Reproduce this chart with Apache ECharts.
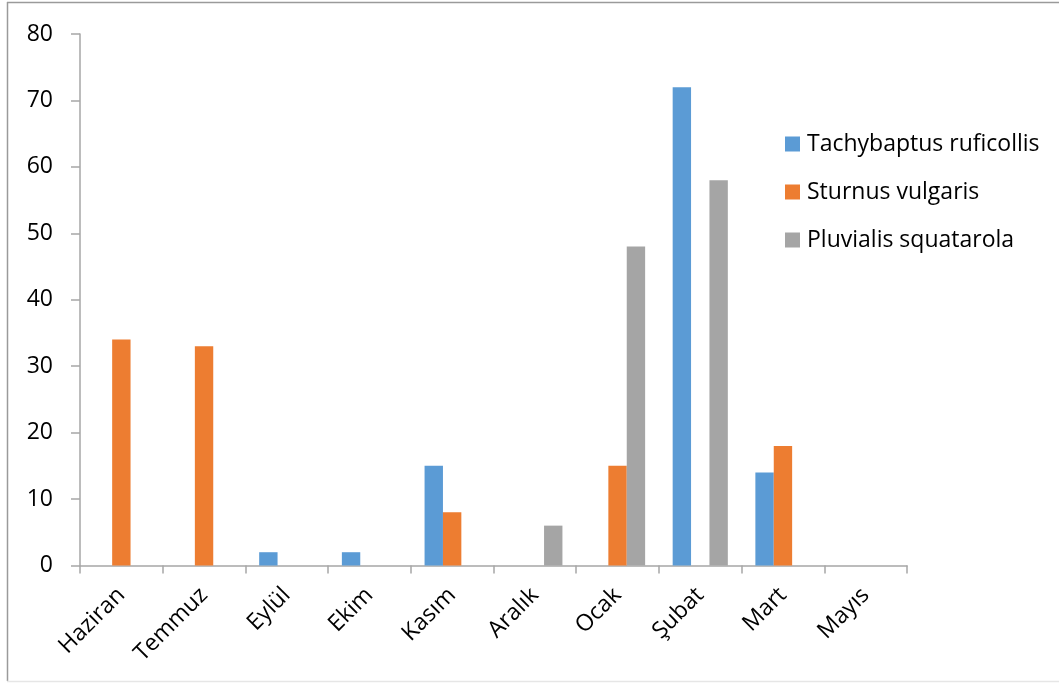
<!DOCTYPE html>
<html>
<head>
<meta charset="utf-8">
<script src="https://cdn.jsdelivr.net/npm/echarts@6/dist/echarts.min.js"></script>
<style>
  html, body { margin: 0; padding: 0; background: #fff; }
  #chart { width: 1059px; height: 683px; }
</style>
</head>
<body>
<div id="chart"></div>
<script>
// Monthly counts of three bird species
const months = ['Haziran', 'Temmuz', 'Eylül', 'Ekim', 'Kasım', 'Aralık', 'Ocak', 'Şubat', 'Mart', 'Mayıs'];
const seriesNames = ['Tachybaptus ruficollis', 'Sturnus vulgaris', 'Pluvialis squatarola'];
const tachybaptus = [0, 0, 2, 2, 15, 0, 0, 72, 14, 0];
const sturnus = [34, 33, 0, 0, 8, 0, 15, 0, 18, 0];
const pluvialis = [0, 0, 0, 0, 0, 6, 48, 58, 0, 0];
const colors = ['#5B9BD5', '#ED7D31', '#A5A5A5'];

const FONT = '"Open Sans", "Liberation Sans", sans-serif';
const AXIS_COLOR = '#A6A6A6';

const chart = echarts.init(document.getElementById('chart'), null, { renderer: 'canvas' });

const seriesData = [tachybaptus, sturnus, pluvialis];

chart.setOption({
  animation: false,
  backgroundColor: '#fff',
  color: colors,
  grid: { left: 80, right: 152, top: 34, bottom: 117.5, containLabel: false },
  legend: {
    orient: 'vertical',
    left: 785,
    top: 132,
    padding: 0,
    itemWidth: 15,
    itemHeight: 15,
    itemGap: 24,
    icon: 'rect',
    data: seriesNames,
    textStyle: { fontFamily: FONT, fontSize: 23, color: '#000', lineHeight: 24, padding: [0, 0, 0, 2] }
  },
  xAxis: {
    type: 'category',
    data: months,
    axisLine: { lineStyle: { color: AXIS_COLOR, width: 1.5 } },
    axisTick: { show: true, length: 8, lineStyle: { color: AXIS_COLOR, width: 1.5 } },
    axisLabel: {
      rotate: 45,
      margin: 26,
      fontFamily: FONT,
      fontSize: 23,
      color: '#000',
      interval: 0
    },
    splitLine: { show: false }
  },
  yAxis: {
    type: 'value',
    min: 0,
    max: 80,
    interval: 10,
    axisLine: { show: true, lineStyle: { color: AXIS_COLOR, width: 1.5 } },
    axisTick: { show: true, length: 9, lineStyle: { color: AXIS_COLOR, width: 1.5 } },
    axisLabel: { margin: 27, fontFamily: FONT, fontSize: 23, color: '#000' },
    splitLine: { show: false }
  },
  series: seriesNames.map((name, i) => ({
    name: name,
    type: 'bar',
    data: seriesData[i],
    barGap: '0%',
    barCategoryGap: '33.3%',
    itemStyle: { color: colors[i] }
  })),
  graphic: [
    { type: 'line', shape: { x1: 7, y1: 2.5, x2: 1059, y2: 2.5 }, style: { stroke: '#9A9A9A', lineWidth: 1.5 } },
    { type: 'line', shape: { x1: 7.5, y1: 2, x2: 7.5, y2: 681 }, style: { stroke: '#9A9A9A', lineWidth: 1.5 } },
    { type: 'line', shape: { x1: 7, y1: 681.5, x2: 1059, y2: 681.5 }, style: { stroke: '#E6E6E6', lineWidth: 1.5 } }
  ]
});
</script>
</body>
</html>
